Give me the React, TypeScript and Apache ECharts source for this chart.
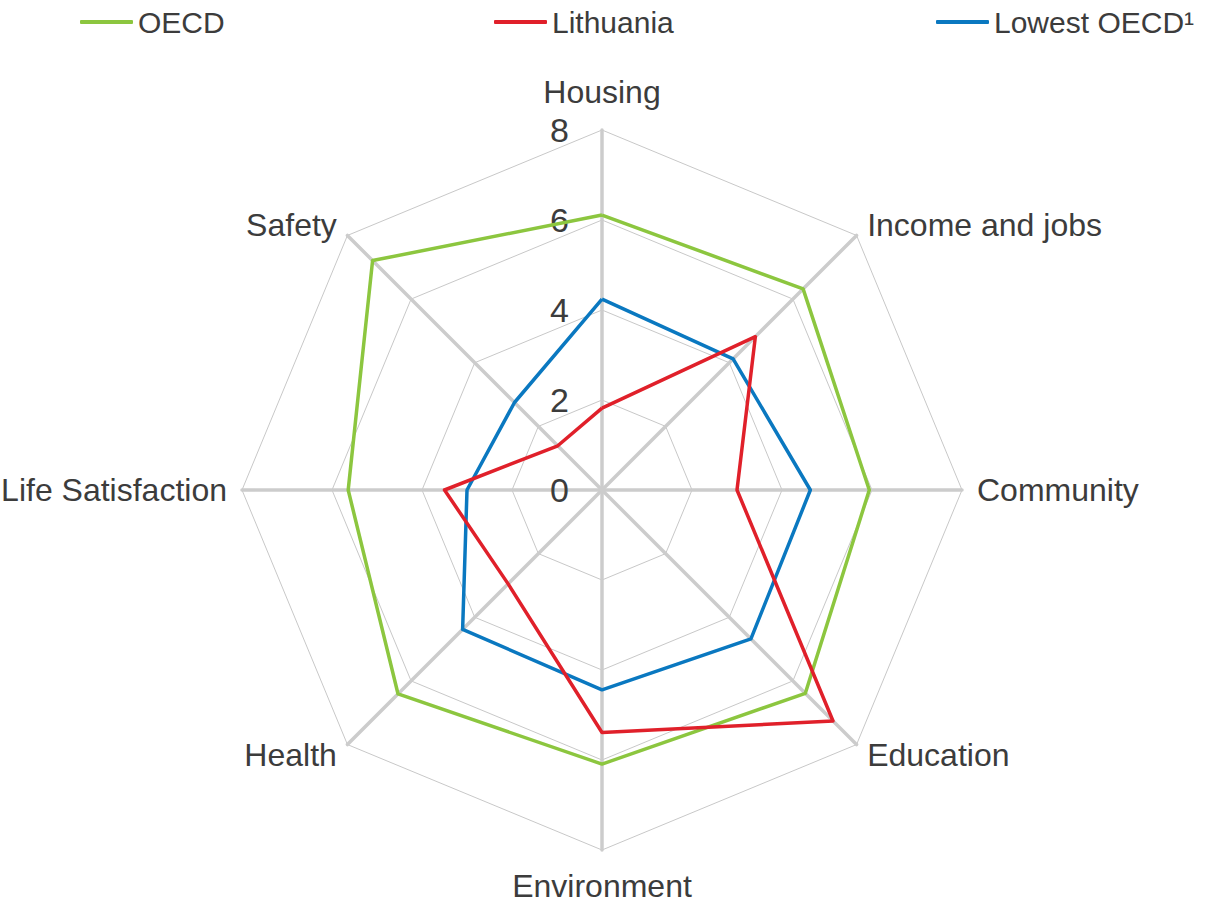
import React, { useEffect, useRef } from "react";
import * as echarts from "echarts";

// Indicators listed counter-clockwise from the top (ECharts radar order)
const indicators = [
  "Housing",
  "Safety",
  "Life Satisfaction",
  "Health",
  "Environment",
  "Education",
  "Community",
  "Income and jobs",
];
const seriesNames = ["OECD", "Lithuania", "Lowest OECD¹"];
const oecdValues = [6.11, 7.21, 5.64, 6.41, 6.09, 6.39, 5.94, 6.32];
const lithuaniaValues = [1.82, 1.39, 3.5, 2.95, 5.39, 7.26, 3.0, 4.82];
const lowestValues = [4.24, 2.75, 3.0, 4.38, 4.44, 4.68, 4.63, 4.12];
const axisMax = 8;
const axisTicks = [0, 2, 4, 6, 8];

const colors = ["#8cc63f", "#e0202a", "#0a78c0"];
const FONT = "'Liberation Sans Narrow', 'Arial Narrow', 'Liberation Sans', Arial, sans-serif";
const TEXT = "#3c3c3c";
const FS = 32;

export default function App() {
  const ref = useRef<HTMLDivElement>(null);
  useEffect(() => {
    if (!ref.current) return;
    const chart = echarts.init(ref.current, undefined, { renderer: "svg" });
    const values = [oecdValues, lithuaniaValues, lowestValues];
    const legendLeft = [80, 494, 936];
    const drawOrder = [0, 2, 1];
    const gaps: Record<string, number> = { Housing: 22, Environment: 20 };
    chart.setOption({
      animation: false,
      backgroundColor: "#ffffff",
      legend: seriesNames.map((n, i) => ({
        data: [n],
        left: legendLeft[i],
        top: 7,
        padding: 0,
        icon: "roundRect",
        itemWidth: 53,
        itemHeight: 4,
        selectedMode: false,
        textStyle: { fontFamily: FONT, fontSize: 30, color: TEXT, padding: [0, 0, 0, 0] },
      })),
      radar: {
        center: [602, 490],
        radius: 360,
        shape: "polygon",
        startAngle: 90,
        splitNumber: axisTicks.length - 1,
        nameGap: 15,
        axisName: { fontFamily: FONT, fontSize: FS, color: TEXT },
        indicator: indicators.map((name, i) => ({
          name,
          min: axisTicks[0],
          max: axisMax,
          ...(gaps[name] != null ? { nameGap: gaps[name] } : {}),
          ...(i === 0
            ? {
                axisLabel: {
                  show: true,
                  margin: 33,
                  fontFamily: FONT,
                  fontSize: FS + 2,
                  color: TEXT,
                  showMinLabel: true,
                  showMaxLabel: true,
                },
              }
            : {}),
        })),
        axisLabel: { show: false },
        axisTick: { show: false },
        axisLine: { show: true, lineStyle: { color: "#cccccc", width: 3.5 } },
        splitLine: { show: true, lineStyle: { color: "#c8c8c8", width: 1 } },
        splitArea: { show: false },
      },
      series: [
        {
          type: "radar",
          symbol: "none",
          data: drawOrder.map((i) => ({
            name: seriesNames[i],
            value: values[i],
            itemStyle: { color: colors[i] },
            lineStyle: { color: colors[i], width: 3.5 },
          })),
        },
      ],
    });
    return () => chart.dispose();
  }, []);
  return (
    <div
      ref={ref}
      style={{ position: "fixed", left: 0, top: 0, width: 1209, height: 903 }}
    />
  );
}
